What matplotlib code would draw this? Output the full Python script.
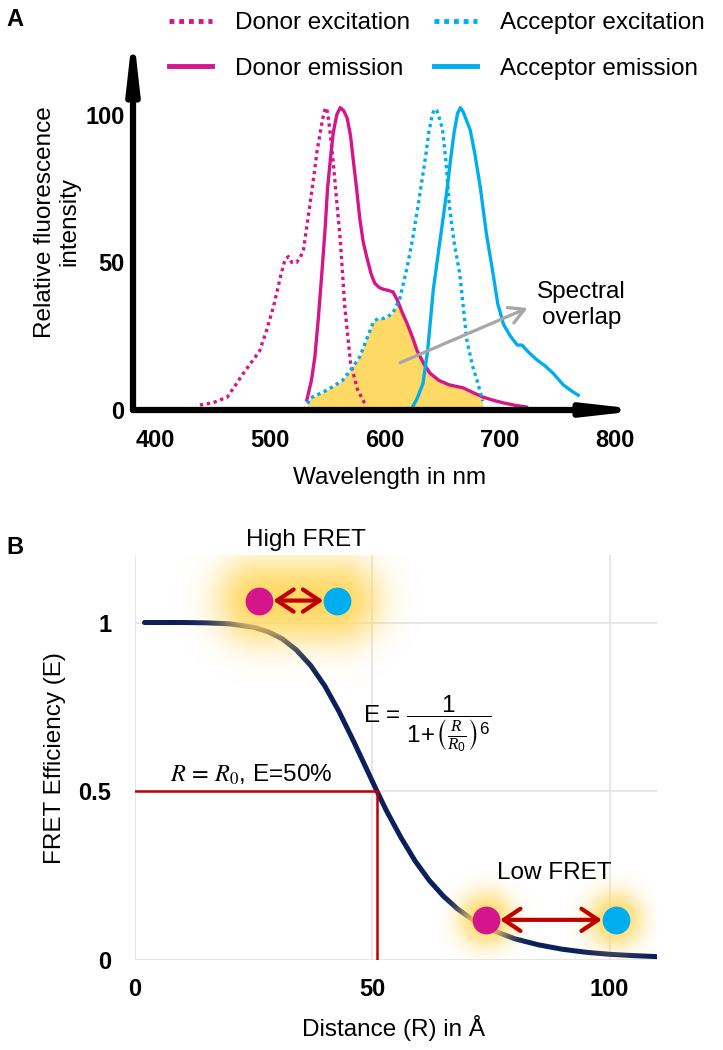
import numpy as np
import matplotlib
matplotlib.use("Agg")
import matplotlib.pyplot as plt
from matplotlib.lines import Line2D

# ---------------- Panel A data (wavelength nm, relative intensity) ----------------
don_ex_nm = [439, 450, 463, 477, 491, 497, 503, 509, 513, 516, 519, 523, 526, 529, 533, 537, 541, 545, 547, 548.5, 550, 552,
             555, 557, 561, 565, 570, 576, 583]
don_ex_val = [1.7, 2.4, 4.4, 12.5, 20, 27, 35, 45, 51, 52, 50, 50, 51.5, 54, 65, 76, 88, 97, 101, 102.5, 101, 95,
              84, 75, 58, 35, 16, 7, 1.7]

don_em_nm = [532, 536, 539, 542, 545, 548, 550, 553, 555, 558, 561, 564, 567, 570, 572, 575, 578, 581, 584, 588, 591,
             595, 598, 603, 607, 611, 615, 619, 624, 628, 634, 639, 647, 656, 662, 668, 676, 685, 694, 703, 713, 723]
don_em_val = [3.4, 10, 18, 31, 46, 62, 75, 87, 94, 100, 102.5, 101.5, 99, 93, 86, 76, 65, 57, 52, 46, 43,
              41.5, 41, 40.5, 40, 37, 33, 29.5, 24.5, 20, 15.5, 12.5, 10, 8.5, 8, 7.5, 6, 4.4, 3.3, 2.4, 1.6, 1]

acc_ex_nm = [530, 535, 540, 546, 555, 563, 570, 578, 584, 590, 594, 598, 602, 607, 613, 619, 624, 629, 633, 636, 638,
             641, 643, 645, 648, 650, 653, 656, 660, 665, 671, 676, 680, 685]
acc_ex_val = [0, 4, 5, 6, 8, 10, 13.5, 18, 24, 30, 31, 31, 31.5, 33, 38, 48, 58, 70, 80, 88, 94,
              100, 102, 101.5, 98, 95, 84, 69, 57, 46, 24, 15, 10, 3]

acc_em_nm = [624, 628, 633, 637, 642, 648, 654, 657, 660, 663, 665.5, 668, 671, 674, 678, 683, 688, 694, 698, 703,
             709, 715, 719, 725, 732, 739, 746, 755, 762, 768]
acc_em_val = [1, 4, 9, 20, 41, 58, 75, 85, 94, 100.5, 102.5, 101, 98, 95, 87, 75, 60, 46, 36, 29,
              25, 22, 22, 19.5, 17, 15, 12.5, 8.5, 6.5, 5]

xticks_A = [400, 500, 600, 700, 800]
yticks_A = [0, 50, 100]
legend_labels = ["Donor excitation", "Donor emission", "Acceptor excitation", "Acceptor emission"]

# ---------------- Panel B data (distance in Angstrom, FRET efficiency) ----------------
dist_R = [2, 10, 15, 20, 25, 28, 31, 34, 37, 40, 43, 46, 49, 51, 53, 56, 59, 62, 65, 68, 71, 75, 80, 85, 90, 95, 100, 105, 110]
eff_E = [1.0, 1.0, 0.999, 0.996, 0.986, 0.973, 0.952, 0.919, 0.873, 0.812, 0.736, 0.650, 0.560, 0.500,
         0.442, 0.364, 0.294, 0.236, 0.189, 0.151, 0.121, 0.090, 0.063, 0.045, 0.032, 0.023, 0.017, 0.013, 0.010]
R0 = 51
E_half = 0.5
high_pair_R = [26.2, 42.6]
high_pair_E = 1.065
low_pair_R = [74.0, 101.3]
low_pair_E = 0.119
xticks_B = [0, 50, 100]
yticks_B = [0, 0.5, 1]
yticklabels_B = ["0", "0.5", "1"]

# ---------------- style ----------------
MAG = "#D5158B"
BLUE = "#00AEEF"
YEL = "#FFD966"
NAVY = "#0B1F5B"
RED = "#C00000"
GRAY = "#A6A6A6"
GRID = "#E3E3E3"

plt.rcParams["font.family"] = ["Liberation Sans", "DejaVu Sans"]
plt.rcParams["mathtext.fontset"] = "custom"
plt.rcParams["mathtext.rm"] = "Liberation Sans"
plt.rcParams["mathtext.it"] = "Liberation Serif:italic"
plt.rcParams["mathtext.bf"] = "Liberation Sans:bold"
plt.rcParams["mathtext.fallback"] = "stix"

FS = 17.5
TFS = 17

W, H = 723, 1050
fig = plt.figure(figsize=(W / 100, H / 100), dpi=100)


def fx(px):
    return px / W


def fy(py):
    return 1 - py / H


# =============== Panel A ===============
axA = fig.add_axes([fx(133), fy(410), fx(645) - fx(133), fy(30) - fy(410)])
axA.set_xlim(380.9, 826)
axA.set_ylim(0, 128.8)
for s in axA.spines.values():
    s.set_visible(False)

grid_nm = np.linspace(min(acc_ex_nm), max(acc_ex_nm) + 8, 500)
em_i = np.interp(grid_nm, don_em_nm, don_em_val, left=0, right=0)
ex_i = np.interp(grid_nm, acc_ex_nm, acc_ex_val, left=0, right=0)
axA.fill_between(grid_nm, 0, np.minimum(em_i, np.maximum(ex_i, 0)), color=YEL, lw=0, zorder=1)

dot = (0, (1, 1.1))
axA.plot(don_ex_nm, don_ex_val, color=MAG, lw=2.4, ls=dot, zorder=3)
axA.plot(don_em_nm, don_em_val, color=MAG, lw=2.4, zorder=3, solid_joinstyle="round")
axA.plot(acc_ex_nm, acc_ex_val, color=BLUE, lw=2.4, ls=dot, zorder=3)
axA.plot(acc_em_nm, acc_em_val, color=BLUE, lw=2.4, zorder=3, solid_joinstyle="round")

# axes arrows
ap = dict(arrowstyle="-|>,head_length=1.5,head_width=0.17", lw=4.5, color="black",
          shrinkA=0, shrinkB=0, mutation_scale=20)
axA.annotate("", xy=(1, 0), xytext=(0, 0), xycoords="axes fraction", arrowprops=ap,
             annotation_clip=False, zorder=5)
axA.annotate("", xy=(0, 1), xytext=(0, 0), xycoords="axes fraction", arrowprops=ap,
             annotation_clip=False, zorder=5)

axA.set_xticks(xticks_A)
axA.set_xticklabels([str(v) for v in xticks_A])
axA.set_yticks(yticks_A)
axA.set_yticklabels([str(v) for v in yticks_A])
axA.tick_params(length=0, labelsize=TFS)
axA.tick_params(axis="x", pad=14)
axA.tick_params(axis="y", pad=6)
for t in axA.get_xticklabels() + axA.get_yticklabels():
    t.set_fontweight("bold")

# spectral overlap arrow
axA.annotate("", xy=(724, 34.6), xytext=(613, 16),
             arrowprops=dict(arrowstyle="->,head_length=0.55,head_width=0.3", color=GRAY, lw=2.3,
                             shrinkA=0, shrinkB=0, mutation_scale=20), zorder=4)
axA.text(771, 35.6, "Spectral\noverlap", ha="center", va="center", fontsize=FS, linespacing=1.2)

handles = [Line2D([], [], color=MAG, lw=3.5, ls=(0, (1, 1))),
           Line2D([], [], color=MAG, lw=3.5),
           Line2D([], [], color=BLUE, lw=3.5, ls=(0, (1, 1))),
           Line2D([], [], color=BLUE, lw=3.5)]
leg = axA.legend(handles, legend_labels, ncol=2, loc="upper left",
                 bbox_to_anchor=(fx(169), fy(12)), bbox_transform=fig.transFigure,
                 frameon=False, borderpad=0, handlelength=1.75, handletextpad=0.95,
                 columnspacing=1.0, labelspacing=0.98, borderaxespad=0,
                 prop=dict(size=FS))

fig.text(fx(57), fy(222), "Relative fluorescence\nintensity", rotation=90, ha="center", va="center",
         fontsize=FS, linespacing=1.15, multialignment="center")
fig.text(fx(390), fy(478), "Wavelength in nm", ha="center", va="center", fontsize=FS)
fig.text(fx(6), fy(19), "A", ha="left", va="center", fontsize=17, fontweight="bold")

# =============== Panel B ===============
axB = fig.add_axes([fx(135), fy(960), fx(657) - fx(135), fy(555) - fy(960)])
axB.set_xlim(0, 110)
axB.set_ylim(0, 1.2)
for s in axB.spines.values():
    s.set_visible(False)
axB.set_xticks(xticks_B)
axB.set_yticks(yticks_B)
axB.set_yticklabels(yticklabels_B)
axB.grid(True, color=GRID, lw=1.2, zorder=0)
axB.set_axisbelow(True)
axB.tick_params(length=0, labelsize=TFS)
axB.tick_params(axis="x", pad=13)
axB.tick_params(axis="y", pad=17)
for t in axB.get_xticklabels() + axB.get_yticklabels():
    t.set_fontweight("bold")

axB.plot(dist_R, eff_E, color=NAVY, lw=3.6, zorder=2, solid_capstyle="round", solid_joinstyle="round")
axB.plot([0, R0], [E_half, E_half], color=RED, lw=1.8, zorder=2)
axB.plot([R0, R0], [E_half, 0], color=RED, lw=1.8, zorder=2)


def glow(ax, pts_a, pts_b, radius, power, zorder):
    bb = ax.bbox
    nx, ny = int(bb.width), int(bb.height)
    xs = np.linspace(bb.x0, bb.x1, nx)
    ys = np.linspace(bb.y0, bb.y1, ny)
    X, Y = np.meshgrid(xs, ys)
    alpha = np.zeros_like(X)
    for a, b in zip(pts_a, pts_b):
        pa = ax.transData.transform(a)
        pb = ax.transData.transform(b)
        d = pb - pa
        L2 = max(d @ d, 1e-9)
        t = np.clip(((X - pa[0]) * d[0] + (Y - pa[1]) * d[1]) / L2, 0, 1)
        dist = np.hypot(X - (pa[0] + t * d[0]), Y - (pa[1] + t * d[1]))
        alpha = np.maximum(alpha, np.exp(-(dist / radius) ** power))
    rgba = np.zeros((ny, nx, 4))
    rgba[..., :3] = matplotlib.colors.to_rgb(YEL)
    rgba[..., 3] = alpha
    x0, x1 = ax.get_xlim()
    y0, y1 = ax.get_ylim()
    ax.imshow(rgba, extent=(x0, x1, y0, y1), origin="lower", aspect="auto",
              interpolation="bilinear", zorder=zorder)


glow(axB, [(high_pair_R[0], high_pair_E)], [(high_pair_R[1], high_pair_E)], 44, 2.5, 3)
glow(axB, [(low_pair_R[0], low_pair_E), (low_pair_R[1], low_pair_E)],
     [(low_pair_R[0], low_pair_E), (low_pair_R[1], low_pair_E)], 28, 2.5, 3)
axB.set_xlim(0, 110)
axB.set_ylim(0, 1.2)

for rr, ee in ((high_pair_R, high_pair_E), (low_pair_R, low_pair_E)):
    axB.plot([rr[0]], [ee], "o", ms=20, color=MAG, mec="none", zorder=5, clip_on=False)
    axB.plot([rr[1]], [ee], "o", ms=20, color=BLUE, mec="none", zorder=5, clip_on=False)
    axB.annotate("", xy=(rr[1], ee), xytext=(rr[0], ee),
                 arrowprops=dict(arrowstyle="<->,head_length=0.6,head_width=0.4", color=RED, lw=3,
                                 shrinkA=10, shrinkB=10, mutation_scale=20), zorder=4)

axB.text(36, 1.245, "High FRET", ha="center", va="center", fontsize=FS, clip_on=False)
axB.text(88.4, 0.258, "Low FRET", ha="center", va="center", fontsize=FS)
axB.text(48.1, 0.70, r"E = $\dfrac{1}{1\!+\!\left(\frac{R}{R_0}\right)^6}$", ha="left", va="center",
         fontsize=FS)
axB.text(7.4, 0.528, r"$R\,=\,R_0$, E=50%", ha="left", va="baseline", fontsize=FS,
         math_fontfamily="stix")

fig.text(fx(55), fy(758), "FRET Efficiency (E)", rotation=90, ha="center", va="center", fontsize=FS)
fig.text(fx(394), fy(1028), "Distance (R) in Å", ha="center", va="center", fontsize=FS)
fig.text(fx(6), fy(547), "B", ha="left", va="center", fontsize=17, fontweight="bold")

fig.savefig("out.png", dpi=100)
